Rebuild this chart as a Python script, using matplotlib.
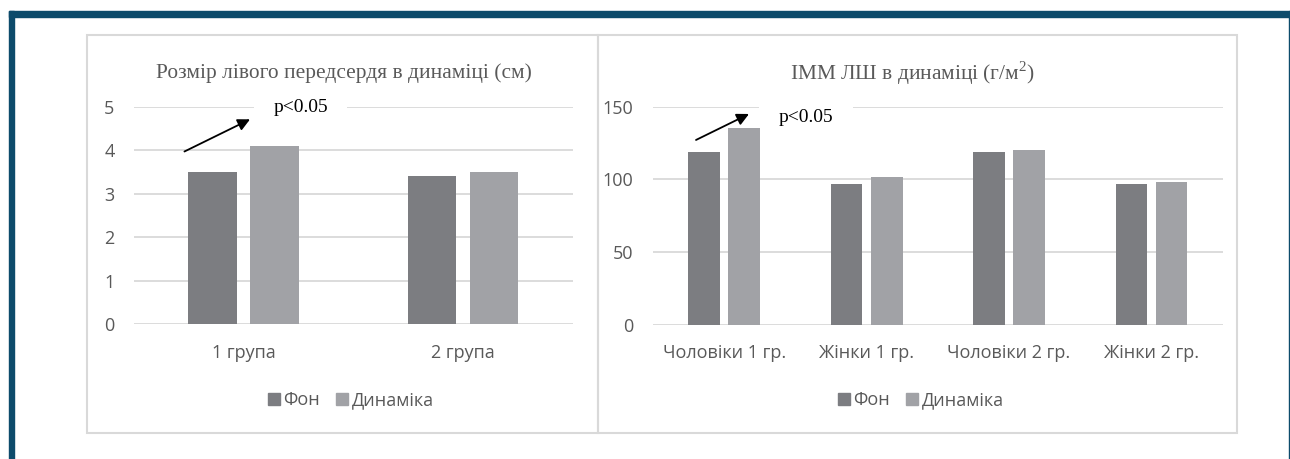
import numpy as np
import matplotlib.pyplot as plt
from matplotlib.patches import Rectangle, Patch

# data
groups_left = ['1 група', '2 група']
fon_left = [3.5, 3.4]
dyn_left = [4.1, 3.5]

groups_right = ['Чоловіки 1 гр.', 'Жінки 1 гр.', 'Чоловіки 2 гр.', 'Жінки 2 гр.']
fon_right = [118.7, 96.6, 118.9, 97.0]
dyn_right = [135.4, 101.6, 120.0, 98.4]

series_names = ['Фон', 'Динаміка']
title_left = 'Розмір лівого передсердя в динаміці (см)'
title_right = 'ІММ ЛШ в динаміці (г/м$^{2}$)'

dark = '#7c7d81'
light = '#a1a2a6'
grey_txt = '#595959'
grid_c = '#d9d9d9'
teal = '#0d4b6b'

sans = ['Open Sans', 'DejaVu Sans']
serif = ['Liberation Serif', 'DejaVu Serif']
plt.rcParams['font.family'] = sans
plt.rcParams['mathtext.fontset'] = 'custom'
plt.rcParams['mathtext.rm'] = 'Liberation Serif'

W, H = 1290, 459
fig = plt.figure(figsize=(W / 100, H / 100), dpi=100)


def fx(x):
    return x / W


def fy(y):
    return 1 - y / H


def px_axes(x0, y0, x1, y1):
    return fig.add_axes([fx(x0), fy(y1), (x1 - x0) / W, (y1 - y0) / H])


# dark frame round the figure
fig.patches.append(Rectangle((fx(9), fy(16.7)), 1, 5.7 / H, transform=fig.transFigure,
                             color=teal, zorder=0))
fig.patches.append(Rectangle((fx(9), 0), 5.3 / W, fy(11), transform=fig.transFigure,
                             color=teal, zorder=0))
fig.patches.append(Rectangle((fx(1288.5), 0), 2 / W, fy(11), transform=fig.transFigure,
                             color=teal, zorder=0))

# panel borders
for x0, x1 in [(87, 598), (598, 1237)]:
    fig.patches.append(Rectangle((fx(x0), fy(432.7)), (x1 - x0) / W, (432.7 - 35) / H,
                                 transform=fig.transFigure, fill=False,
                                 edgecolor=grid_c, lw=1.5, zorder=0))


def draw_panel(ax, cats, fon, dyn, ymax, step):
    x = np.arange(len(cats))
    w = 0.222
    ax.bar(x - 0.141, fon, w, color=dark, zorder=2)
    ax.bar(x + 0.141, dyn, w, color=light, zorder=2)
    ax.set_xlim(-0.5, len(cats) - 0.5)
    ax.set_ylim(0, ymax)
    ax.set_yticks(np.arange(0, ymax + step / 2, step))
    ax.set_xticks(x)
    ax.set_xticklabels(cats)
    ax.yaxis.grid(True, color=grid_c, lw=1.3, zorder=0)
    ax.set_axisbelow(True)
    for s in ax.spines.values():
        s.set_visible(False)
    ax.tick_params(axis='both', length=0, colors=grey_txt, labelsize=13)
    ax.tick_params(axis='y', pad=14)
    ax.tick_params(axis='x', pad=14)
    ax.patch.set_alpha(0)


ax1 = px_axes(134, 106.7, 572.7, 324.2)
draw_panel(ax1, groups_left, fon_left, dyn_left, 5, 1)

ax2 = px_axes(653, 106.7, 1222.7, 324.6)
draw_panel(ax2, groups_right, fon_right, dyn_right, 150, 50)

# p-value notes with arrows; white box sits over the gridline but under the bars
box = dict(boxstyle='square,pad=1.0', facecolor='white', edgecolor='none')
ax1.text(0.259, 4.99, 'p<0.05', ha='center', va='center', fontsize=14,
         family=serif, color='black', bbox=box, zorder=1.5, clip_on=False)
ax1.annotate('', xy=(0.029, 4.71), xytext=(-0.27, 3.97),
             arrowprops=dict(arrowstyle='-|>', color='black', lw=1.3, mutation_scale=18,
                             shrinkA=0, shrinkB=0), zorder=6, annotation_clip=False)

ax2.text(0.574, 142.3, 'p<0.05', ha='center', va='center', fontsize=14,
         family=serif, color='black', bbox=box, zorder=1.5, clip_on=False)
ax2.annotate('', xy=(0.174, 145.0), xytext=(-0.198, 127.1),
             arrowprops=dict(arrowstyle='-|>', color='black', lw=1.3, mutation_scale=18,
                             shrinkA=0, shrinkB=0), zorder=6, annotation_clip=False)

# titles
fig.text(fx(344), fy(73), title_left, ha='center', va='center', fontsize=15.4,
         family=serif, color=grey_txt)
fig.text(fx(912), fy(73), title_right, ha='center', va='center', fontsize=15.4,
         family=serif, color=grey_txt)

# legends
handles = [Patch(color=dark), Patch(color=light)]
for cx in [351, 921]:
    fig.legend(handles, series_names, loc='center', bbox_to_anchor=(fx(cx), fy(400)),
               ncol=2, frameon=False, fontsize=13, labelcolor=grey_txt,
               handlelength=0.65, handleheight=0.65, handletextpad=0.2,
               columnspacing=0.9)

fig.savefig('out.png', dpi=100)
